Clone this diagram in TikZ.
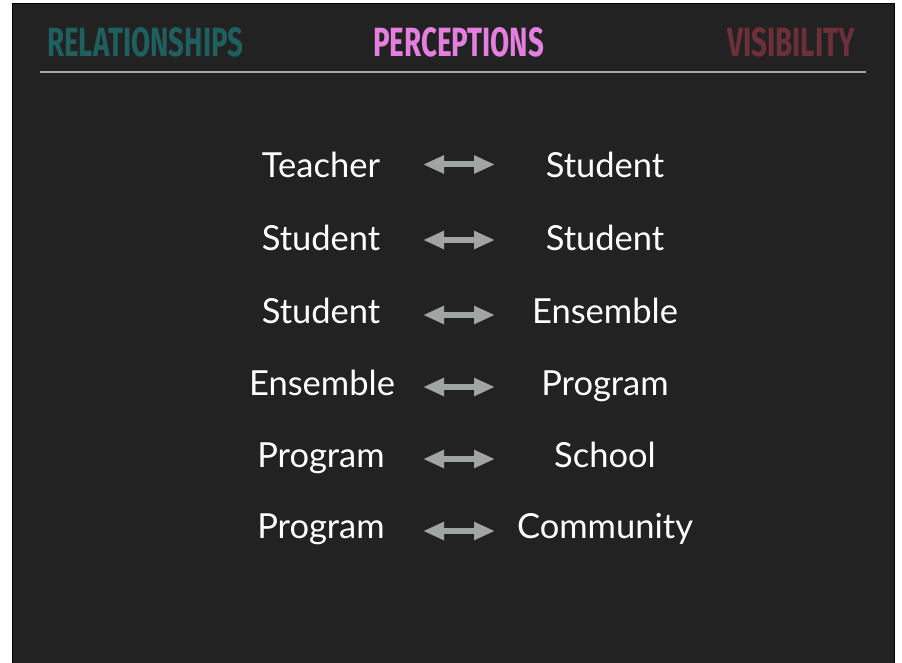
\documentclass[tikz,border=0pt]{standalone}
\usepackage{fontspec,graphicx}
\usetikzlibrary{arrows.meta}
\setmainfont{Lato}
\newfontfamily\headfont{Fira Sans}
\definecolor{slidebg}{HTML}{222222}
\definecolor{relcol}{HTML}{1F5F5E}
\definecolor{percol}{HTML}{E57FDF}
\definecolor{viscol}{HTML}{6D2F3A}
\definecolor{arrowcol}{HTML}{A1A5A2}

\begin{document}
\begin{tikzpicture}[x=1pt,y=-1pt,
        word/.style={anchor=base,text=white,inner sep=0pt,font=\fontsize{34.5}{40}\selectfont},
        head/.style={anchor=south west,inner sep=0pt,text=#1},
        link/.style={draw=arrowcol,line width=6pt,{Triangle[length=21pt,width=17pt]}-{Triangle[length=21pt,width=17pt]}}]

        \useasboundingbox (0,0) rectangle (902,663);
        \fill[white] (0,0) rectangle (902,663);
        \filldraw[fill=slidebg,draw=black,line width=1pt] (12,4) rectangle (894,664);

        \node[head=relcol] (rel) at (47,57) {\resizebox{196pt}{29pt}{\headfont\bfseries RELATIONSHIPS}};
        \node[head=percol] (per) at (373,57) {\resizebox{171pt}{29pt}{\headfont\bfseries PERCEPTIONS}};
        \node[head=viscol] (vis) at (727,57) {\resizebox{128pt}{29pt}{\headfont\bfseries VISIBILITY}};
        \draw[draw=black!35,line width=1.5pt] (40,72) -- (866,72);

        \node[word] (l1) at (321,178) {Teacher};
        \node[word] (r1) at (605,178) {Student};
        \coordinate (a1) at (423,164.5);
        \coordinate (b1) at (495,164.5);
        \draw[link] (a1) -- (b1);

        \node[word] (l2) at (321,251) {Student};
        \node[word] (r2) at (605,251) {Student};
        \coordinate (a2) at (423,240);
        \coordinate (b2) at (495,240);
        \draw[link] (a2) -- (b2);

        \node[word] (l3) at (321,323) {Student};
        \node[word] (r3) at (605,323) {Ensemble};
        \coordinate (a3) at (423,315);
        \coordinate (b3) at (495,315);
        \draw[link] (a3) -- (b3);

        \node[word] (l4) at (322,395) {Ensemble};
        \node[word] (r4) at (605,395) {Program};
        \coordinate (a4) at (423,387);
        \coordinate (b4) at (495,387);
        \draw[link] (a4) -- (b4);

        \node[word] (l5) at (321,467) {Program};
        \node[word] (r5) at (605,467) {School};
        \coordinate (a5) at (423,459);
        \coordinate (b5) at (495,459);
        \draw[link] (a5) -- (b5);

        \node[word] (l6) at (321,538) {Program};
        \node[word] (r6) at (605,538) {Community};
        \coordinate (a6) at (423,531);
        \coordinate (b6) at (495,531);
        \draw[link] (a6) -- (b6);
      \end{tikzpicture}
\end{document}
